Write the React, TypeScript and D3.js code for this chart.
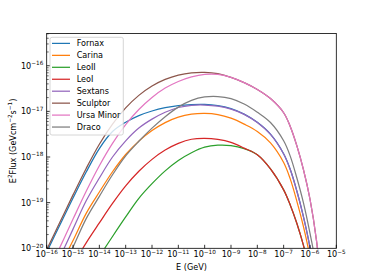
import { useEffect, useRef } from 'react';
import * as d3 from 'd3';

// Energy grid as log10(E / GeV): half decades, quarter decades near the cut-off
const energyLog = [
  -16, -15.5, -15, -14.5, -14, -13.5, -13, -12.5, -12, -11.5, -11, -10.5, -10,
  -9.5, -9, -8.5, -8, -7.5, -7, -6.75, -6.5, -6.25, -6, -5.75, -5.5,
];

// log10(E^2 Flux / GeV cm^-2 s^-1)
const fornax = [-20.085, -19.49, -18.9, -18.33, -17.815, -17.442, -17.238, -17.093, -16.992, -16.92, -16.873, -16.85, -16.846, -16.873, -16.94, -17.06, -17.24, -17.5, -17.93, -18.27, -18.74, -19.3, -19.98, -20.95, -22.3];
const carina = [-20.97, -20.4, -19.83, -19.234, -18.767, -18.323, -17.945, -17.652, -17.421, -17.246, -17.126, -17.062, -17.045, -17.07, -17.15, -17.28, -17.44, -17.69, -18.12, -18.48, -18.965, -19.52, -20.2, -21.3, -22.8];
const leoII = [-22.1, -21.6, -21.11, -20.64, -20.18, -19.741, -19.313, -18.906, -18.584, -18.304, -18.076, -17.906, -17.785, -17.74, -17.75, -17.816, -17.95, -18.26, -18.72, -19.05, -19.45, -19.93, -20.55, -21.5, -23.0];
const leoI = [-21.33, -20.84, -20.36, -19.88, -19.444, -19.018, -18.633, -18.313, -18.052, -17.848, -17.702, -17.611, -17.592, -17.615, -17.68, -17.805, -17.95, -18.26, -18.72, -19.05, -19.45, -19.93, -20.55, -21.5, -23.0];
const sextans = [-20.82, -20.2, -19.58, -18.96, -18.46, -18.0, -17.645, -17.365, -17.17, -17.02, -16.915, -16.868, -16.862, -16.885, -16.95, -17.065, -17.245, -17.505, -17.935, -18.275, -18.745, -19.305, -19.985, -20.955, -22.3];
const sculptor = [-20.03, -19.43, -18.83, -18.25, -17.72, -17.28, -16.925, -16.65, -16.445, -16.3, -16.205, -16.155, -16.145, -16.175, -16.255, -16.37, -16.52, -16.72, -17.03, -17.33, -17.75, -18.27, -18.92, -19.84, -21.3];
const ursaMinor = [-20.6, -19.98, -19.36, -18.75, -18.19, -17.7, -17.29, -16.96, -16.695, -16.49, -16.345, -16.245, -16.19, -16.19, -16.255, -16.37, -16.52, -16.72, -17.03, -17.33, -17.75, -18.27, -18.92, -19.84, -21.3];
const draco = [-21.22, -20.6, -19.975, -19.35, -18.861, -18.389, -17.975, -17.655, -17.367, -17.116, -16.907, -16.76, -16.685, -16.675, -16.72, -16.84, -17.02, -17.245, -17.645, -17.98, -18.455, -19.0, -19.67, -20.45, -21.8];

const names = ['Fornax', 'Carina', 'LeoII', 'LeoI', 'Sextans', 'Sculptor', 'Ursa Minor', 'Draco'];
const colors = ['#1f77b4', '#ff7f0e', '#2ca02c', '#d62728', '#9467bd', '#8c564b', '#e377c2', '#7f7f7f'];
const series = [fornax, carina, leoII, leoI, sextans, sculptor, ursaMinor, draco];

const xTickExps = [-16, -15, -14, -13, -12, -11, -10, -9, -8, -7, -6, -5];
const yTickExps = [-20, -19, -18, -17, -16];

const FONT = 'DejaVu Sans, sans-serif';

export default function App() {
    const ref = useRef<SVGSVGElement>(null);

    useEffect(() => {
        if (!ref.current) return;
        const svg = d3.select(ref.current);
        svg.selectAll('*').remove();

        const left = 46.7, right = 336.3, top = 33.5, bottom = 248.3;

        const x = d3.scaleLog().domain([1e-16, 1e-5]).range([left, right]);
        const y = d3.scaleLog().domain([1e-20, 5.08e-16]).range([bottom, top]);

        svg.append('rect').attr('width', 374).attr('height', 280).attr('fill', '#fff');

        svg.append('defs').append('clipPath').attr('id', 'plot-clip')
            .append('rect')
            .attr('x', left).attr('y', top)
            .attr('width', right - left).attr('height', bottom - top);

        // Lines
        const line = d3.line<number>()
            .x((_, i) => x(10 ** energyLog[i]))
            .y(d => y(10 ** d))
            .curve(d3.curveCatmullRom.alpha(0.5));

        const lines = svg.append('g').attr('clip-path', 'url(#plot-clip)');
        series.forEach((vals, i) => {
            lines.append('path')
                .attr('d', line(vals))
                .attr('fill', 'none')
                .attr('stroke', colors[i])
                .attr('stroke-width', 1.25);
        });

        // Frame
        svg.append('rect')
            .attr('x', left).attr('y', top)
            .attr('width', right - left).attr('height', bottom - top)
            .attr('fill', 'none').attr('stroke', '#000').attr('stroke-width', 0.8);

        const sup = (t: d3.Selection<SVGTextElement, unknown, null, undefined>, e: number) => {
            t.append('tspan').text('10');
            t.append('tspan').attr('dy', -3.6).attr('font-size', 5.7).text(e < 0 ? '\u2212' + Math.abs(e) : String(e));
        };

        // X ticks
        xTickExps.forEach(e => {
            const px = x(10 ** e);
            svg.append('line')
                .attr('x1', px).attr('x2', px)
                .attr('y1', bottom).attr('y2', bottom - 3.5)
                .attr('stroke', '#000').attr('stroke-width', 0.8);
            const t = svg.append('text')
                .attr('x', px).attr('y', 257.3)
                .attr('text-anchor', 'middle')
                .attr('font-family', FONT).attr('font-size', 8.1)
                .attr('fill', '#000');
            sup(t, e);
        });

        // Y ticks (major + minor)
        y.ticks().forEach(v => {
            const py = y(v);
            const major = Math.abs(Math.log10(v) - Math.round(Math.log10(v))) < 1e-6;
            svg.append('line')
                .attr('x1', left).attr('x2', left + (major ? 3.5 : 2))
                .attr('y1', py).attr('y2', py)
                .attr('stroke', '#000').attr('stroke-width', major ? 0.8 : 0.6);
        });
        yTickExps.forEach(e => {
            const t = svg.append('text')
                .attr('x', 43.3).attr('y', y(10 ** e) + 3)
                .attr('text-anchor', 'end')
                .attr('font-family', FONT).attr('font-size', 8.1)
                .attr('fill', '#000');
            sup(t, e);
        });

        // Axis labels
        svg.append('text')
            .attr('x', (left + right) / 2).attr('y', 269.5)
            .attr('text-anchor', 'middle')
            .attr('font-family', FONT).attr('font-size', 8.1)
            .text('E (GeV)');

        const yl = svg.append('text')
            .attr('transform', `translate(15.5,${(top + bottom) / 2}) rotate(-90)`)
            .attr('text-anchor', 'middle')
            .attr('font-family', FONT).attr('font-size', 8.1);
        yl.append('tspan').text('E');
        yl.append('tspan').attr('dy', -3.6).attr('font-size', 5.7).text('2');
        yl.append('tspan').attr('dy', 3.6).text('Flux (GeVcm');
        yl.append('tspan').attr('dy', -3.6).attr('font-size', 5.7).text('\u22122');
        yl.append('tspan').attr('dy', 3.6).text('s');
        yl.append('tspan').attr('dy', -3.6).attr('font-size', 5.7).text('\u22121');
        yl.append('tspan').attr('dy', 3.6).text(')');

        // Legend
        const lg = svg.append('g');
        lg.append('rect')
            .attr('x', 50).attr('y', 37.3)
            .attr('width', 73.3).attr('height', 97.7)
            .attr('rx', 2)
            .attr('fill', '#fff').attr('fill-opacity', 0.8)
            .attr('stroke', '#cccccc').attr('stroke-width', 0.8);
        names.forEach((n, i) => {
            const cy = 43.4 + i * 11.95;
            lg.append('line')
                .attr('x1', 52).attr('x2', 70)
                .attr('y1', cy).attr('y2', cy)
                .attr('stroke', colors[i]).attr('stroke-width', 1.25);
            lg.append('text')
                .attr('x', 76.7).attr('y', cy + 2.9)
                .attr('font-family', FONT).attr('font-size', 8.1)
                .attr('fill', '#000')
                .text(n);
        });
    }, []);

    return <svg ref={ref} width={374} height={280} style={{ position: 'absolute', left: 0, top: 0 }} />;
}
